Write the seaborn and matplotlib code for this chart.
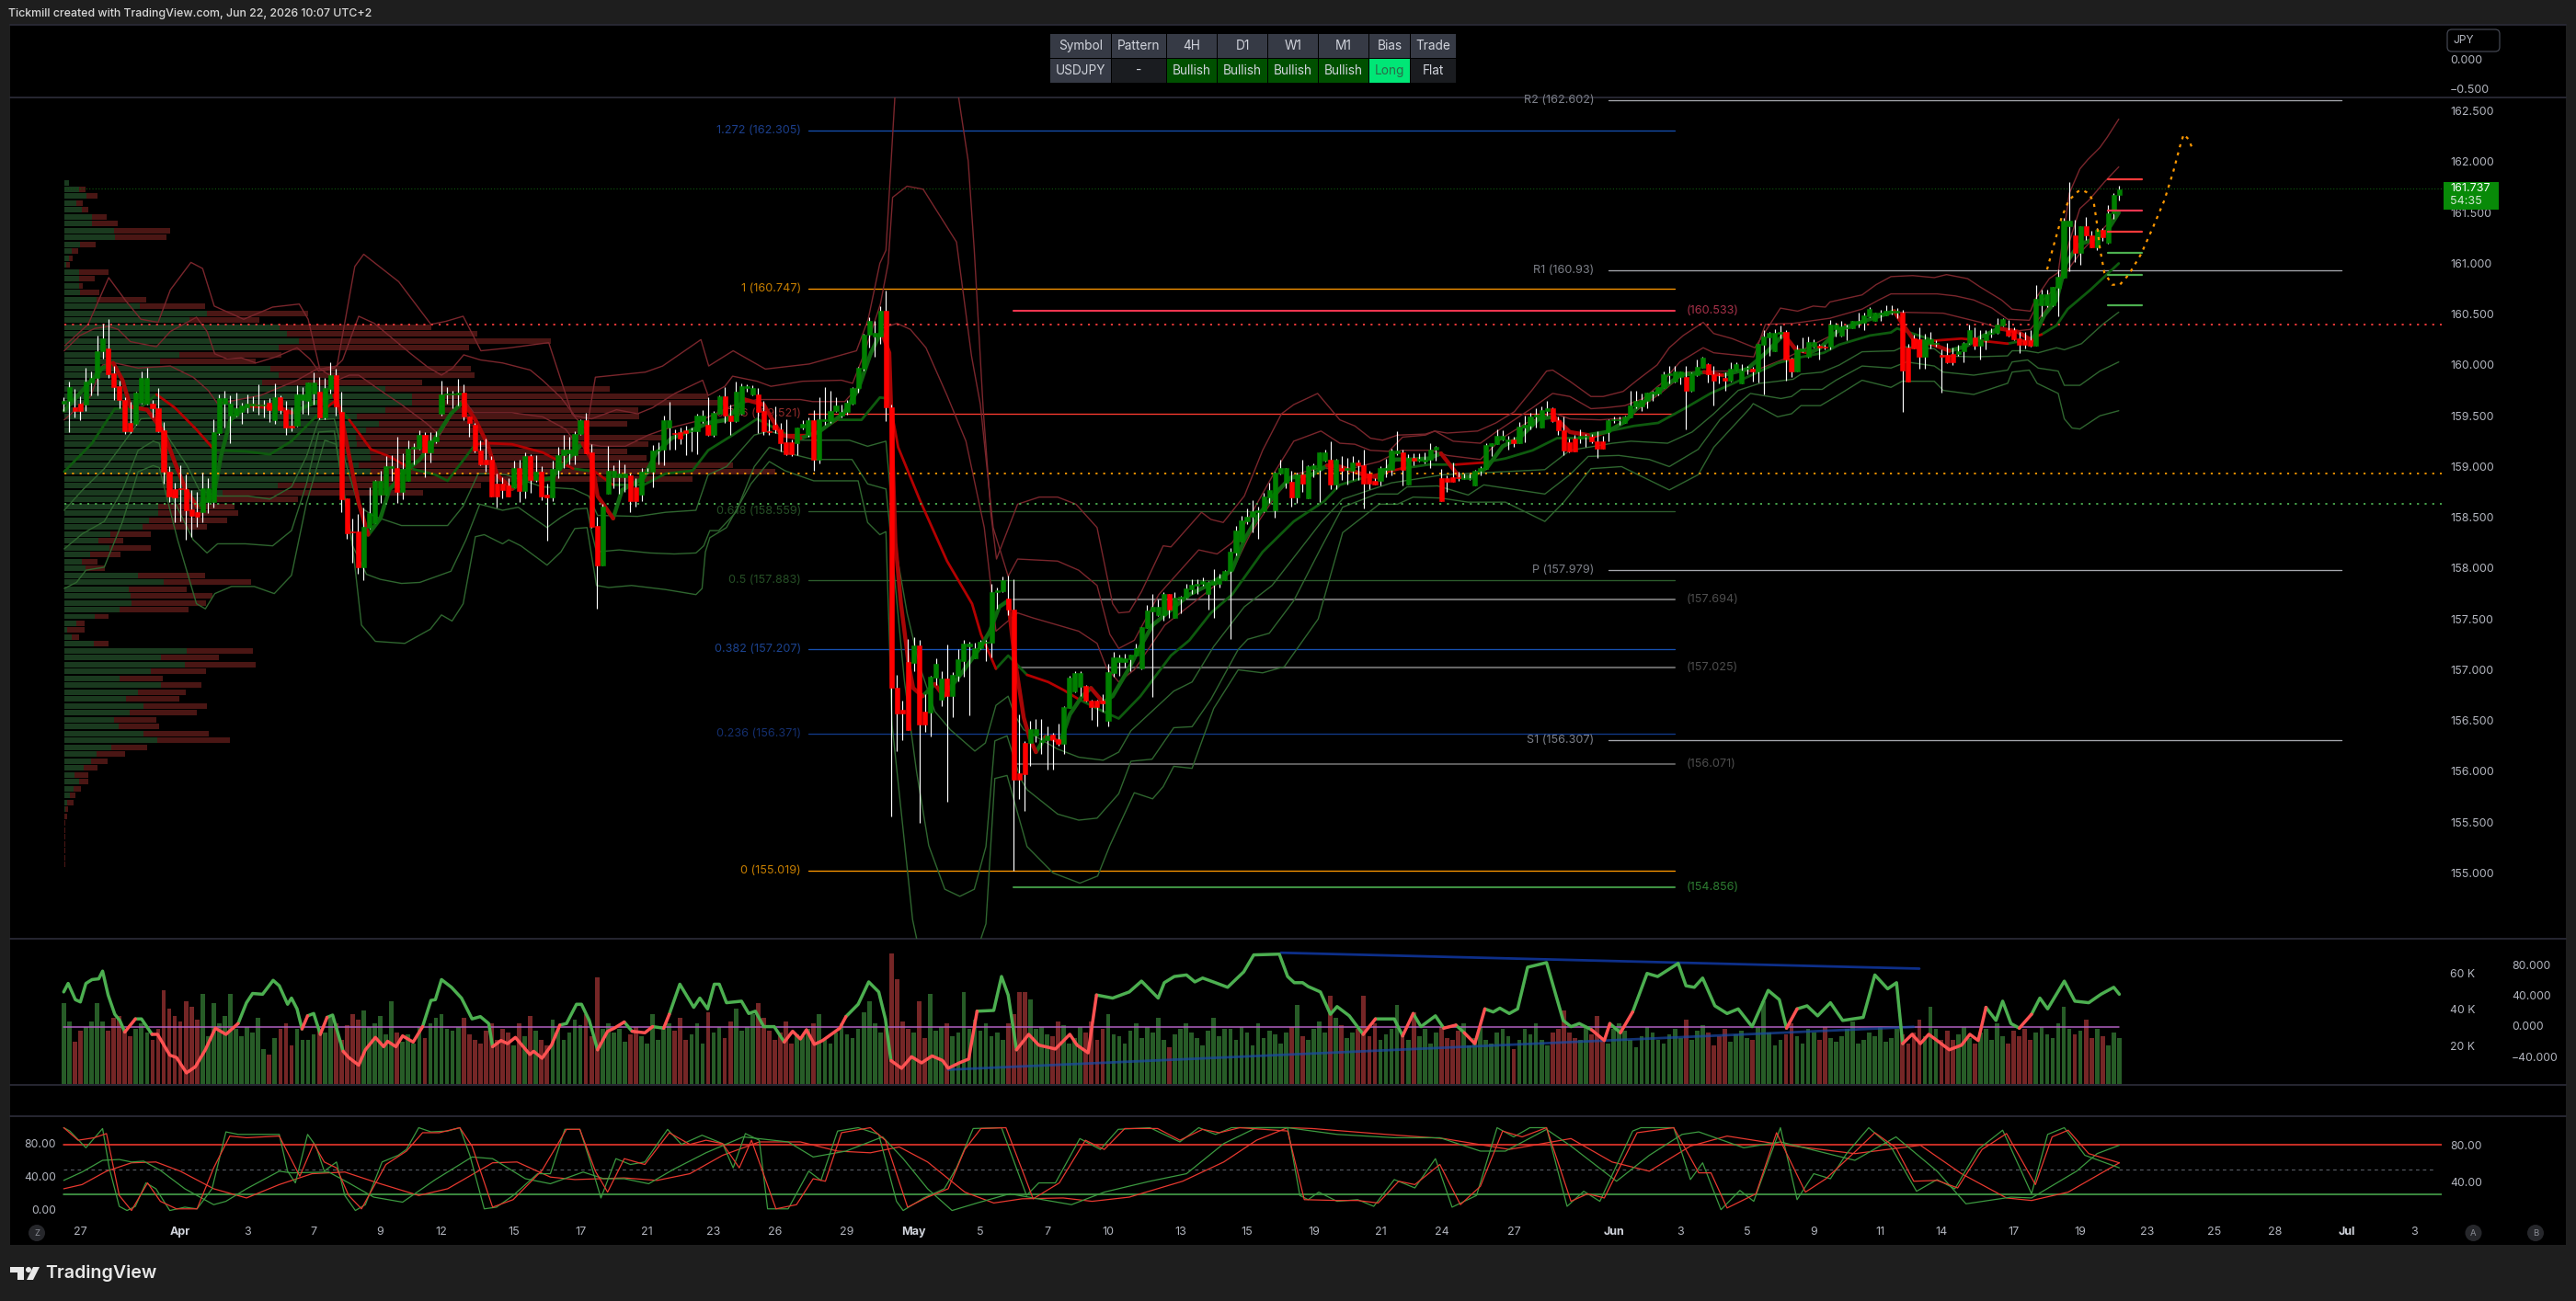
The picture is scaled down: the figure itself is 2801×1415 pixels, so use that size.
import numpy as np
import pandas as pd
import seaborn as sns
import matplotlib.pyplot as plt
from matplotlib.patches import Rectangle, Circle, Polygon, FancyBboxPatch

W, H = 2801, 1415

# ---- candles (4H USDJPY), body top / body bottom / high / low
body_top = [
159.65,159.78,159.58,159.62,159.84,159.87,160.14,160.26,160.16,159.92,
159.79,159.66,159.43,159.73,159.87,159.87,159.62,159.57,159.36,158.95,
158.78,158.79,158.78,158.58,158.55,158.79,158.79,159.34,159.67,159.67,
159.62,159.57,159.60,159.62,159.62,159.61,159.61,159.63,159.68,159.68,
159.56,159.40,159.71,159.71,159.83,159.83,159.74,159.77,159.90,159.90,
159.54,158.69,158.36,158.36,158.41,158.54,158.86,158.86,159.00,159.00,
158.99,158.98,159.18,159.19,159.31,159.31,159.26,159.29,159.71,159.72,
159.72,159.73,159.73,159.49,159.41,159.16,159.07,159.07,158.83,158.83,
158.81,158.99,158.99,159.10,159.10,158.95,158.95,158.72,158.98,159.11,
159.17,159.17,159.32,159.46,159.46,159.14,158.42,158.61,158.96,158.96,
158.93,158.93,158.91,158.80,158.95,158.95,159.16,159.17,159.46,159.46,
159.33,159.34,159.36,159.36,159.50,159.50,159.41,159.53,159.69,159.69,
159.50,159.74,159.79,159.79,159.77,159.71,159.55,159.35,159.41,159.37,
159.24,159.24,159.38,159.42,159.46,159.46,159.47,159.47,159.55,159.60,
159.54,159.63,159.77,159.97,160.30,160.43,160.32,160.53,160.53,159.58,
156.82,156.61,157.08,157.24,157.24,156.59,156.93,157.06,156.91,156.91,
156.95,157.10,157.26,157.26,157.21,157.28,157.28,157.76,157.78,157.88,
157.70,157.59,155.98,156.28,156.42,156.42,156.31,156.35,156.36,156.32,
156.63,156.92,156.97,156.97,156.84,156.70,156.70,156.70,156.98,157.12,
157.12,157.11,157.15,157.21,157.42,157.58,157.62,157.62,157.75,157.75,
157.71,157.72,157.80,157.84,157.85,157.87,157.86,157.87,157.90,157.97,
158.16,158.37,158.47,158.51,158.56,158.57,158.71,158.77,158.94,158.99,
158.99,158.85,158.92,158.92,159.00,159.01,159.14,159.14,159.07,159.07,
158.99,158.99,159.04,159.04,159.01,158.93,158.86,158.99,158.99,159.16,
159.16,159.14,159.09,159.09,159.08,159.07,159.17,159.19,158.89,158.89,
158.90,158.90,158.89,158.89,158.96,158.99,159.21,159.23,159.30,159.30,
159.27,159.27,159.39,159.41,159.49,159.51,159.56,159.57,159.57,159.46,
159.36,159.24,159.28,159.30,159.30,159.29,159.25,159.25,159.46,159.47,
159.47,159.49,159.60,159.65,159.66,159.73,159.74,159.78,159.91,159.92,
159.94,159.94,159.88,159.92,159.98,160.07,160.01,159.91,159.91,159.87,
159.96,160.01,159.95,159.97,159.96,160.21,160.28,160.32,160.32,160.33,
160.33,160.06,160.15,160.16,160.23,160.23,160.19,160.18,160.40,160.40,
160.38,160.37,160.43,160.43,160.49,160.55,160.52,160.52,160.53,160.53,
160.53,160.52,160.17,160.26,160.25,160.25,160.25,160.22,160.10,160.10,
160.11,160.14,160.22,160.34,160.27,160.25,160.31,160.32,160.40,160.45,
160.34,160.34,160.26,160.24,160.24,160.65,160.70,160.70,160.77,160.87,
161.42,161.42,161.28,161.37,161.37,161.28,161.33,161.33,161.49,161.67,
161.73]
body_bot = [
159.62,159.65,159.55,159.55,159.61,159.83,159.87,160.14,159.91,159.78,
159.66,159.35,159.35,159.42,159.63,159.62,159.57,159.35,158.95,158.71,
158.70,158.78,158.57,158.52,158.51,158.55,158.65,158.65,159.33,159.62,
159.50,159.50,159.54,159.58,159.60,159.60,159.60,159.56,159.46,159.56,
159.38,159.38,159.40,159.66,159.65,159.72,159.48,159.48,159.76,159.59,
158.68,158.34,158.35,158.01,158.01,158.40,158.44,158.72,158.72,158.99,
158.75,158.75,158.86,159.18,159.18,159.14,159.14,159.25,159.52,159.71,
159.71,159.71,159.49,159.43,159.16,159.02,159.02,158.71,158.71,158.77,
158.71,158.80,158.76,158.76,158.87,158.87,158.71,158.70,158.70,158.97,
159.11,159.13,159.11,159.32,159.13,158.41,158.03,158.03,158.73,158.90,
158.90,158.90,158.66,158.66,158.72,158.94,158.95,159.16,159.17,159.38,
159.32,159.28,159.33,159.35,159.35,159.45,159.31,159.31,159.52,159.50,
159.45,159.45,159.52,159.77,159.71,159.54,159.35,159.34,159.37,159.23,
159.12,159.12,159.23,159.38,159.31,159.07,159.07,159.45,159.45,159.55,
159.50,159.54,159.62,159.77,159.96,160.30,160.28,160.28,159.58,156.82,
156.57,156.57,156.41,157.07,156.46,156.46,156.58,156.92,156.71,156.74,
156.74,156.94,157.09,157.23,157.11,157.21,157.27,157.27,157.76,157.77,
157.59,155.92,155.92,155.97,156.28,156.35,156.29,156.31,156.32,156.27,
156.27,156.62,156.79,156.83,156.70,156.63,156.63,156.67,156.50,156.97,
157.08,157.08,157.10,157.14,157.01,157.41,157.57,157.54,157.54,157.59,
157.51,157.70,157.71,157.79,157.83,157.85,157.75,157.84,157.85,157.88,
157.97,158.15,158.26,158.46,158.51,158.55,158.56,158.70,158.57,158.93,
158.84,158.70,158.70,158.83,158.69,158.98,158.97,159.06,158.82,158.82,
158.96,158.97,158.96,159.01,158.83,158.83,158.82,158.86,158.97,158.97,
159.13,158.97,158.82,159.06,159.06,159.05,159.07,159.17,158.66,158.85,
158.85,158.89,158.88,158.88,158.81,158.96,158.98,159.20,159.22,159.27,
159.25,159.23,159.23,159.38,159.40,159.49,159.38,159.55,159.45,159.36,
159.16,159.15,159.15,159.28,159.29,159.25,159.18,159.18,159.34,159.46,
159.46,159.43,159.48,159.59,159.59,159.65,159.72,159.72,159.77,159.90,
159.84,159.88,159.75,159.75,159.90,159.97,159.91,159.85,159.90,159.85,
159.85,159.95,159.82,159.96,159.94,159.94,160.20,160.27,160.14,160.31,
160.05,159.94,159.94,160.14,160.08,160.18,160.17,160.17,160.18,160.35,
160.29,160.36,160.36,160.41,160.42,160.48,160.43,160.50,160.49,160.52,
160.52,159.95,159.84,160.16,160.08,160.08,160.21,160.21,160.08,160.03,
160.03,160.11,160.14,160.22,160.19,160.19,160.24,160.31,160.32,160.39,
160.29,160.25,160.20,160.20,160.19,160.19,160.59,160.59,160.59,160.76,
160.86,161.37,161.10,161.10,161.28,161.16,161.16,161.26,161.20,161.49,
161.67]
highs = [
159.68,159.84,159.76,159.69,159.97,159.94,160.29,160.41,160.45,159.99,
159.85,159.68,159.64,159.74,159.94,159.97,159.66,159.77,159.44,159.00,
158.84,159.01,158.92,158.77,158.75,158.94,158.89,159.47,159.71,159.75,
159.70,159.73,159.63,159.71,159.69,159.81,159.66,159.67,159.82,159.70,
159.65,159.58,159.80,159.78,159.83,159.93,159.88,159.87,160.03,159.96,
159.74,158.69,158.49,158.53,158.60,158.80,158.87,158.96,159.10,159.11,
159.29,159.13,159.26,159.23,159.36,159.34,159.34,159.35,159.85,159.78,
159.75,159.86,159.81,159.49,159.43,159.26,159.28,159.10,158.93,158.90,
158.89,159.06,159.07,159.14,159.12,159.11,159.00,158.83,159.06,159.19,
159.31,159.29,159.35,159.47,159.53,159.22,158.51,158.63,159.20,159.01,
159.07,159.02,158.93,158.89,158.99,158.99,159.21,159.24,159.50,159.64,
159.37,159.38,159.40,159.38,159.52,159.56,159.68,159.55,159.70,159.78,
159.61,159.84,159.82,159.81,159.80,159.77,159.65,159.47,159.59,159.43,
159.47,159.27,159.38,159.46,159.48,159.56,159.68,159.78,159.75,159.68,
159.61,159.66,159.78,159.98,160.31,160.47,160.43,160.575,160.73,159.61,
156.95,156.70,157.30,157.32,157.29,156.76,156.94,157.11,156.99,157.25,
156.98,157.20,157.29,157.28,157.27,157.29,157.29,157.85,157.81,157.92,
157.93,157.89,156.56,156.30,156.50,156.52,156.52,156.44,156.38,156.47,
156.64,156.94,156.99,156.99,156.85,156.71,156.71,156.76,157.06,157.18,
157.15,157.16,157.15,157.26,157.42,157.64,157.75,157.69,157.76,157.75,
157.76,157.73,157.85,157.89,157.89,157.91,157.87,157.99,157.95,157.98,
158.20,158.42,158.52,158.59,158.67,158.61,158.74,158.84,158.95,159.07,
158.99,158.96,158.94,159.07,159.01,159.03,159.14,159.17,159.25,159.08,
159.10,159.09,159.10,159.07,159.17,158.96,158.89,159.00,159.08,159.18,
159.35,159.17,159.12,159.13,159.13,159.14,159.23,159.20,158.98,158.91,
159.04,158.95,158.93,158.93,158.97,159.00,159.23,159.23,159.37,159.36,
159.30,159.29,159.44,159.50,159.53,159.57,159.59,159.65,159.58,159.49,
159.49,159.28,159.31,159.37,159.32,159.32,159.35,159.30,159.47,159.49,
159.49,159.50,159.75,159.75,159.72,159.73,159.75,159.78,159.94,159.99,
159.99,159.94,159.99,159.93,160.05,160.08,160.02,159.99,159.92,159.93,
160.03,160.03,160.01,159.99,159.98,160.21,160.34,160.33,160.35,160.39,
160.34,160.07,160.20,160.27,160.28,160.25,160.21,160.20,160.44,160.42,
160.43,160.40,160.43,160.52,160.52,160.57,160.52,160.54,160.59,160.59,
160.56,160.54,160.21,160.30,160.37,160.31,160.33,160.24,160.15,160.22,
160.17,160.20,160.23,160.40,160.37,160.34,160.34,160.36,160.46,160.46,
160.44,160.37,160.33,160.33,160.34,160.79,160.74,160.74,160.77,160.94,
161.45,161.80,161.43,161.37,161.46,161.32,161.35,161.35,161.57,161.69,
161.76]
lows = [
159.55,159.34,159.48,159.46,159.55,159.70,159.70,160.06,159.87,159.66,
159.57,159.32,159.33,159.41,159.62,159.61,159.48,159.34,158.83,158.65,
158.45,158.46,158.28,158.31,158.41,158.45,158.54,158.60,159.31,159.38,
159.23,159.49,159.42,159.53,159.55,159.51,159.48,159.44,159.42,159.52,
159.31,159.35,159.39,159.52,159.51,159.61,159.47,159.47,159.72,159.50,
158.55,158.29,158.05,157.95,157.88,158.39,158.44,158.64,158.72,158.86,
158.64,158.68,158.86,159.02,159.17,158.90,159.04,159.23,159.50,159.62,
159.57,159.60,159.46,159.29,159.14,159.01,158.95,158.71,158.60,158.69,
158.71,158.80,158.65,158.69,158.74,158.85,158.67,158.27,158.66,158.89,
158.99,159.02,159.02,159.31,159.13,158.40,157.60,158.03,158.73,158.79,
158.73,158.75,158.55,158.61,158.66,158.93,158.80,159.02,159.01,159.17,
159.17,159.22,159.11,159.15,159.12,159.43,159.30,159.29,159.52,159.43,
159.31,159.44,159.51,159.74,159.70,159.33,159.31,159.31,159.33,159.15,
159.11,159.10,159.11,159.37,159.29,158.96,159.03,159.41,159.43,159.54,
159.48,159.51,159.61,159.73,159.95,160.17,160.08,160.21,159.45,155.56,
156.20,156.31,156.41,156.99,155.49,156.39,156.34,156.85,156.64,155.70,
156.53,156.89,156.93,156.55,157.11,157.20,157.09,157.12,157.60,157.76,
157.54,155.02,155.73,155.61,156.05,156.29,156.17,156.02,156.02,156.25,
156.17,156.62,156.78,156.74,156.69,156.51,156.44,156.59,156.44,156.93,
156.94,157.02,156.99,157.14,157.00,157.41,156.73,157.53,157.48,157.51,
157.51,157.56,157.70,157.75,157.75,157.83,157.59,157.51,157.81,157.88,
157.30,158.13,158.26,158.43,158.35,158.29,158.55,158.64,158.50,158.92,
158.79,158.61,158.64,158.75,158.69,158.90,158.65,159.05,158.78,158.78,
158.87,158.82,158.87,158.87,158.59,158.78,158.82,158.81,158.90,158.91,
159.11,158.81,158.82,159.01,159.05,159.03,158.99,159.06,158.66,158.75,
158.85,158.86,158.88,158.87,158.81,158.91,158.98,159.10,159.22,159.26,
159.17,159.19,159.23,159.24,159.37,159.38,159.38,159.50,159.44,159.31,
159.11,159.14,159.15,159.23,159.19,159.23,159.09,159.18,159.25,159.43,
159.41,159.43,159.48,159.57,159.55,159.57,159.65,159.70,159.77,159.82,
159.83,159.81,159.37,159.74,159.89,159.97,159.83,159.60,159.82,159.75,
159.84,159.95,159.82,159.91,159.84,159.83,159.71,160.09,160.14,160.26,
159.85,159.88,159.94,160.13,160.07,160.17,160.05,160.15,160.15,160.28,
160.28,160.24,160.36,160.37,160.34,160.47,160.43,160.43,160.49,160.50,
160.46,159.54,159.84,160.16,159.96,159.96,160.16,160.18,159.73,160.02,
160.00,160.09,160.03,160.21,160.15,160.05,160.15,160.27,160.31,160.38,
160.28,160.24,160.12,160.16,160.18,160.19,160.48,160.57,160.58,160.48,
160.86,160.92,161.01,160.99,161.23,161.16,161.13,161.22,161.19,161.44,
161.62]
candle_dir = (
"GGRRGGGGRR" "RRRGGGRRRR" "RRRRRGGGGG" "GGGGGGGRGR" "RRGGGGRGGR"
"RRRRGGGGGG" "RGGGGRGGGG" "GGRRRRRRRR" "RGRGRGRRGG" "GGGGRRRGGG"
"GGRRGGGGGG" "RRRGGGRGGR" "RGGGGRRRRR" "RRGGGRGGGG" "GGGGGGGGRR"
"RRRGRRGGGR" "GGGGGGGGGG" "RRRRGGGGRR" "GGGGRRRRGG" "GGGGGGGGGR"
"GGGGGGGGGG" "GGGGGGGGGG" "GRGRGGGGRG" "RGGRRRRGGG" "GRGRGGGGRR"
"RRGGGGGGGG" "GRGGGGGGRR" "RRRGGRRRGG" "GGGGGGGGGG" "GGRGGGRRRR"
"GGGGRGGGGG" "RRGGGGRRGG" "GGGGGGGGGG" "GRRRRGGGRR" "RGGGRGGGGG"
"RRRRRGGGGG" "GGRGRRGRGG" "G")

# volume per bar, thousands
volume_k = [
44,34,23,29,31,34,44,34,29,36, 37,30,26,30,33,28,24,30,51,41,
37,34,45,42,35,49,26,44,33,37, 49,30,26,31,28,36,19,16,25,30,
33,21,30,24,24,27,30,28,36,33, 24,32,38,35,40,31,33,37,27,45,
28,23,27,22,31,25,33,36,38,30, 29,31,36,27,24,22,29,33,24,30,
28,21,33,26,37,29,24,21,35,30, 24,28,35,32,38,26,58,30,33,28,
30,23,27,31,26,22,38,24,30,33, 29,36,24,27,33,22,39,28,31,25,
34,41,29,31,38,44,36,29,24,28, 34,22,27,26,30,33,38,24,22,28,
33,27,25,30,39,45,33,28,31,71, 57,34,30,28,45,25,49,29,31,33,
26,28,50,30,35,29,33,26,28,24, 33,38,50,50,46,30,31,27,26,34,
32,22,25,31,28,34,24,30,38,27, 26,22,29,33,25,31,28,36,24,20,
27,30,33,28,25,21,29,36,26,30, 30,24,31,28,21,33,25,29,27,22,
28,31,43,26,24,30,34,28,48,36, 32,25,28,30,48,26,33,24,27,30,
43,28,24,39,26,30,22,28,31,25, 24,29,33,21,25,31,24,22,28,30,
26,19,24,30,27,33,24,21,28,30, 40,28,25,24,31,27,37,25,22,30,
33,29,24,20,26,31,28,24,22,27, 30,25,35,24,29,32,28,21,26,30,
23,27,29,25,24,31,45,28,21,24, 27,33,26,22,30,28,24,31,25,23,
26,30,34,22,24,28,26,31,23,25, 30,27,22,28,35,26,42,30,24,29,
24,27,31,25,22,28,30,24,33,26, 22,29,26,30,24,28,31,27,25,33,
42,30,27,29,35,25,30,26,21,28, 25]

# ---- bollinger style bands, vertices read as (bar, price)
u3_x = [0.2,4.4,8.1,11.2,13.9,17,19.2,22.9,25,27.1,32.4,37.6,42.4,44,46.1,49.2,52.4,54,60.3,66.1,68.8,71.9,75.1,80.4,87.3,91.5,94.1,95.7,104.7,107.8,114.7,116.1,120.5,126.3,134.2,142.7,144.8,146.9,148,149.6,155,160.9,162.8,163.9,165.5,166.9,167.9,171.7,175.6,178.9,182.2,186,188.8,189.9,191.8,194,197.9,199.3,204.8,206.5,208.7,212.5,215.8,219.2,221.4,225.7,229.7,232.4,235.2,237.4,240.1,245.1,246.8,249,254.5,257.8,261.1,264.4,266.9,268,271.1,274.9,277.1,280.7,283.2,286.8,289,291.5,295.1,297,300.3,304.4,309,312.1,314.9,317.1,317.9,323.7,326.2,328.9,332.8,336.7,338.9,342.7,344.9,348.8,350.7,354,354.9,357.4,359,361,362.9,364.3,366.5,367.8,369.9]
u3_y = [160.19,160.40,160.86,160.63,160.45,160.42,160.74,161.01,160.95,160.58,160.45,160.57,160.60,160.45,159.96,159.99,160.97,161.09,160.82,160.40,160.43,160.48,160.14,160.17,160.22,159.52,159.36,159.88,159.93,159.99,160.25,159.99,160.14,159.96,160.01,160.14,160.45,161.00,161.13,162.63,164.5,162.7,162.01,161.13,159.57,158.53,158.09,158.63,158.70,158.70,158.63,158.40,157.65,157.56,157.57,157.77,158.22,158.21,158.55,158.48,158.45,158.71,159.16,159.52,159.61,159.72,159.46,159.40,159.28,159.26,159.31,159.32,159.35,159.33,159.35,159.43,159.54,159.76,159.94,159.95,159.84,159.69,159.69,159.74,159.85,160.00,160.17,160.29,160.42,160.31,160.26,160.17,160.56,160.53,160.58,160.57,160.62,160.69,160.79,160.87,160.88,160.86,160.89,160.85,160.77,160.64,160.55,160.53,160.65,160.85,160.91,161.69,161.93,162.02,162.14,162.24,162.42]
u2_x = [0.1,2.9,5.6,8.1,9.8,12,16.7,19.2,23.9,25.8,27.2,29.4,32,34.6,38.2,42,44.3,45.9,48.7,50.2,53.1,55.9,59.2,62.5,65.5,68,70,72,75,79,84,86.2,89.5,92,95,99.5,103.3,106,110,115,116,119,120.4,124.8,127.3,133,140,142,144,147,148.4,149.2,151.8,154.7,160.7,163.4,165,167.3,170,171.7,178.9,182.7,186,188.3,189.9,192.7,197.1,201.5,204.3,207.6,210.3,213.6,218,221.4,226.3,229.7,232.4,235.2,238.5,241,245.1,246.8,250.1,255,257.8,261.1,264.4,268,271.1,274.9,277.7,281,284.3,287.6,290.9,295.1,297,304.2,306.3,311.3,317.9,323.7,326.7,328.9,337.2,340.5,343.8,347.1,349.9,353.8,354.9,357.4,359,361,362.9,364.5,367.3,369.9]
u2_y = [160.14,160.29,160.36,160.38,160.35,160.23,160.18,160.33,160.47,160.33,160.11,160.06,160.07,160.02,160.08,160.17,160.06,159.94,159.97,160.05,160.48,160.41,160.26,160.11,159.98,159.90,159.97,160.10,160.05,160.02,159.95,159.85,159.68,159.50,159.47,159.56,159.52,159.58,159.72,159.85,159.70,159.79,159.89,159.84,159.79,159.84,159.85,159.82,160.10,160.60,161.00,161.65,161.76,161.73,161.21,160.09,159.61,158.40,157.92,158.09,158.07,157.98,157.83,157.35,157.21,157.29,157.74,158.01,158.18,158.14,158.25,158.52,158.95,159.25,159.35,159.23,159.22,159.16,159.15,159.29,159.31,159.35,159.25,159.23,159.34,159.46,159.58,159.72,159.69,159.57,159.58,159.60,159.67,159.82,160.03,160.17,160.12,160.08,160.40,160.41,160.46,160.55,160.64,160.70,160.70,160.68,160.64,160.56,160.45,160.44,160.56,160.70,160.79,161.21,161.54,161.62,161.80,161.95]
u1_x = [0.1,4.8,7,9.2,13.4,19.2,23.3,26,27.7,35.4,42,45.9,49.2,51.4,53.1,57,60.8,65.2,67.7,70.8,71.9,73.8,80.7,86.2,90.3,92,96.7,101.1,105.2,108.3,114.9,120.4,124.8,132.6,134.8,140.6,143,145.5,147.2,150,152.4,155.2,159,162.4,165.7,167.8,171.7,174.5,178.3,182.7,186,187.7,189.9,192.7,198.2,205.9,210.3,213.6,218,221.4,226.3,230.2,236.8,240.7,246.2,249,255,258.9,263.3,268,271.1,276.6,281.3,287.6,292,295.9,304.2,309.7,319.6,325.1,330,338.3,345,350.5,354,358.2,360.4,363.2,366.5,369.9]
u1_y = [159.46,159.69,160.00,160.02,159.97,159.99,159.88,159.75,159.62,159.70,159.85,159.97,159.85,159.90,159.90,159.75,159.61,159.43,159.31,159.60,159.67,159.53,159.53,159.49,159.37,159.25,159.20,159.20,159.31,159.37,159.46,159.60,159.66,159.66,159.64,159.64,159.79,160.12,160.36,160.41,160.35,160.17,159.70,159.25,158.40,157.38,157.56,157.51,157.45,157.38,157.26,157.02,156.88,157.00,157.44,157.77,157.97,158.34,158.70,158.92,158.99,158.96,159.05,159.16,159.16,159.11,159.07,159.28,159.43,159.53,159.47,159.46,159.48,159.73,159.93,159.94,159.94,160.06,160.33,160.45,160.52,160.51,160.42,160.33,160.35,160.64,160.91,161.12,161.31,161.50]
l1_x = [0.1,3.4,7.3,10.6,13.9,17.2,18.9,22.2,24.4,27.7,33.2,37.1,41,43.7,45.9,48.7,50.9,53.1,55.9,60.8,69.1,71.9,74.6,77.4,79.6,86.2,91.7,94.5,96.1,103.3,108.3,113.8,116,119.3,124.3,127,132.6,141.4,144.7,148,149.6,151.8,154,156.8,159.6,164,165.9,167.8,170,171.1,172.8,178.9,182.7,187.1,189.9,192.1,199.8,203.1,207,212.5,217.5,226.3,230.2,239,248.4,266.6,271.1,278.8,282.1,288.7,293.1,297,301.4,305.3,308.5,311.3,312.7,316.5,319.6,323.7,329.5,331.1,336.7,338.3,343.8,349.9,350.7,353.2,355.4,358.7,360.1,363.2,367,369.9]
l1_y = [158.57,158.77,158.98,159.22,159.47,159.48,159.28,159.01,158.77,158.71,158.71,158.68,158.80,159.10,159.46,159.47,159.01,158.61,158.51,158.42,158.42,158.61,158.93,158.93,158.92,158.80,158.78,158.71,158.52,158.51,158.55,158.57,158.92,159.00,159.31,159.35,159.26,159.26,159.20,159.25,158.25,157.56,157.05,156.59,156.41,156.20,156.28,156.65,156.74,156.56,156.41,156.22,156.14,156.11,156.19,156.40,156.79,156.88,157.23,157.62,157.83,158.45,158.68,158.84,158.92,158.97,159.16,159.23,159.25,159.23,159.34,159.52,159.75,159.82,159.84,159.86,159.91,159.93,160.00,160.13,160.14,160.18,160.16,160.09,160.08,160.09,160.14,160.14,160.12,160.17,160.15,160.21,160.40,160.52]
l2_x = [0.1,3.4,7.3,10.6,13.4,16.1,17.2,18.9,23.3,25.8,27.7,32.7,37.6,41,43.7,45.9,48.7,52,54.5,57,60.8,64.1,69.7,72.4,74.9,79,81.8,87,89.5,92,94.2,95,95.9,100,105.5,109.9,113.8,115.2,116.3,117.9,121,124.3,127,129.8,135,141.9,144.7,148,148.6,151.3,153.5,155.7,158.6,161.3,163.9,166,167.6,169.8,172.2,173.4,178.9,182.7,186,189.9,192.1,195.9,199.8,203.1,206.5,211.4,213.1,217,221.4,226.3,230.2,236.3,240.1,241.8,247.3,252.8,255.6,266.6,271.1,274.4,279.9,285.4,289,294.2,298.1,303.6,309.1,311,312.7,316.5,319,323.7,328.9,331.7,336.7,338.3,343.8,349.9,350.7,353.5,355.4,359,360.1,362.9,366.5,369.9]
l2_y = [158.19,158.34,158.46,158.77,159.16,159.25,159.23,158.77,158.28,158.15,158.24,158.24,158.22,158.37,158.83,159.34,159.35,158.22,157.94,157.89,157.85,157.86,157.97,158.28,158.63,158.57,158.60,158.40,158.50,158.58,158.59,158.36,158.16,158.18,158.15,158.14,158.15,158.22,158.37,158.37,158.55,159.00,159.19,159.14,159.07,159.07,158.83,158.78,158.46,156.90,156.00,155.27,154.84,154.77,154.84,155.26,156.30,156.35,155.93,155.82,155.58,155.52,155.54,155.78,156.10,156.12,156.43,156.44,156.71,157.20,157.30,157.36,157.68,158.20,158.60,158.73,158.73,158.80,158.81,158.72,158.82,158.73,158.92,159.10,159.11,159.07,159.00,159.17,159.46,159.72,159.67,159.69,159.76,159.76,159.85,159.99,159.97,160.03,159.99,159.93,159.90,159.95,160.03,160.05,159.97,159.94,159.80,159.80,159.94,160.03]
l3_x = [0.1,2.3,4,7.3,10.6,13.4,16.1,17.2,20.5,23.9,25.5,27.2,30.2,34.3,37.9,41,43.7,47,49,52,53.6,56.1,61.4,66,68,69.9,71.9,74.1,75.7,79,80.1,82.3,87,89.5,92,94.2,95.9,98.1,102.2,108.3,113.8,114.9,115.5,116.3,119.3,123.7,127,129.8,135,143,144.7,146.9,148,149.1,152.8,158,166,167.6,169.8,173.4,178.1,182.9,186.1,188.3,192.7,196,197.9,199.8,203.1,207,211.4,215.8,219.7,225.8,230.2,236.8,240.1,242.9,247.9,252.8,259.5,266.6,270,274.9,280.4,289,294.2,297,303.6,304.1,308.5,311,312.7,316.2,319,323.7,328.9,330.9,336.7,338.3,343.8,349.9,350.7,353.8,355.2,359,360.1,361.5,362.9,366.5,369.9]
l3_y = [157.80,157.86,157.98,158.01,158.46,158.95,159.01,158.99,158.28,157.65,157.60,157.75,157.82,157.82,157.75,157.93,158.64,159.26,159.22,158.22,157.44,157.28,157.26,157.40,157.54,157.48,157.65,158.31,158.33,158.24,158.28,158.22,158.03,158.16,158.39,158.40,157.83,157.81,157.83,157.79,157.74,157.80,158.16,158.30,158.40,158.83,159.05,158.96,158.86,158.86,158.45,158.33,158.36,156.46,154.54,153.20,154.50,155.93,155.96,155.26,155.00,154.90,154.97,155.27,155.79,155.73,155.85,156.05,156.03,156.62,157.00,156.97,157.03,157.50,158.35,158.63,158.63,158.70,158.69,158.65,158.65,158.46,158.65,158.98,159.00,158.77,158.92,159.19,159.58,159.62,159.49,159.52,159.60,159.60,159.69,159.85,159.78,159.84,159.84,159.75,159.71,159.82,159.93,159.95,159.82,159.72,159.47,159.38,159.37,159.50,159.55]

# slow and fast averages
slow_x = [0.1,5.1,9.2,13.6,16.7,20,23.8,27.2,32.7,37.1,41,45.9,48.7,51.4,55.3,58.6,62.5,66.9,69.1,74.1,76.5,80.7,86.2,91.7,95.6,98.9,104.4,108.3,113.2,116,120.4,124.8,130.3,134.8,139.2,143.6,146.9,148.6,150.2,154.1,159,163.5,165.1,167.8,170,173.4,177.2,180,182.7,187.1,189.9,193.8,199.3,202.6,206.5,210.3,215.8,221.4,226.9,229.7,234,240.7,245.7,250.6,255.6,259.5,264.4,268.8,274.9,278.2,282.6,287,292,296.4,303,308.5,312.9,316.8,319.6,325.1,328.9,330,336.7,341.6,349.9,352.7,356,358.7,360.7,364.8,369.9]
slow_y = [158.95,159.23,159.57,159.57,159.71,159.58,159.37,159.16,159.15,159.12,159.25,159.52,159.64,159.46,159.17,159.10,158.98,158.92,158.86,159.22,159.23,159.22,159.14,158.98,158.95,158.82,158.82,158.93,158.96,159.16,159.31,159.47,159.31,159.31,159.46,159.46,159.68,159.67,159.19,158.67,158.07,157.65,157.35,157.01,157.14,156.95,156.88,156.80,156.71,156.59,156.52,156.74,157.14,157.29,157.56,157.74,158.16,158.46,158.66,158.82,158.89,158.98,159.02,159.02,159.04,159.08,159.16,159.28,159.28,159.35,159.40,159.43,159.58,159.72,159.88,160.02,160.08,160.12,160.20,160.29,160.32,160.36,160.24,160.26,160.21,160.24,160.30,160.39,160.55,160.74,161.00]
fast_x = [0.1,7,8.9,10.6,12,15,18,20,22,24,27,28.3,30,33.2,38.8,41,44.3,48.7,49.8,51.4,53.1,54.8,57,58.6,61.4,64.1,66.9,69.7,71.9,74.1,76.3,78,80.7,84,86.2,87.9,91.7,93.4,95,96.1,98.9,100.5,104.4,106.6,109.4,112.7,116,119.3,122.6,126,129.2,132.6,135.9,140.3,143,145.3,147.2,148.6,149.7,150.7,152.1,152.9,154.6,156.8,158.4,161.8,165.1,166.7,168.4,170,171.1,172.8,173.9,175,176.7,179.4,181.1,183.3,184.9,187.1,188.8,191.6,193.8,196,199.3,202.6,205.9,210.3,212.5,215.3,218,220.8,224.7,227.4,229.7,234,236.8,239.6,242.4,245.7,247.9,251.2,253.4,256.2,259,262.2,265.5,268.3,271.1,274.4,277.7,281,283.7,287.6,290.9,295.3,298.6,303,306.4,309.6,311.8,314.3,316.2,319.6,323.4,329.5,330.9,333.1,336.1,339.4,342.2,344.9,348.3,351.6,354.3,356.5,358.7,360.4,362.6,365.4,367.6,369.9]
fast_y = [159.55,159.97,160.02,159.85,159.59,159.56,159.34,159.04,158.77,158.61,158.71,159.10,159.46,159.60,159.58,159.53,159.61,159.70,159.55,159.10,158.64,158.33,158.49,158.77,158.95,159.07,159.28,159.52,159.64,159.46,159.22,158.92,158.78,158.89,158.87,158.89,159.13,159.23,159.07,158.71,158.49,158.77,158.89,159.13,159.28,159.35,159.43,159.46,159.66,159.61,159.31,159.28,159.34,159.52,159.76,160.12,160.33,160.12,158.25,157.65,157.05,156.82,156.74,156.86,156.74,156.98,157.23,157.38,157.62,157.68,157.14,156.53,156.32,156.19,156.34,156.29,156.56,156.74,156.82,156.68,156.74,157.00,157.23,157.44,157.59,157.74,157.83,157.98,158.28,158.54,158.73,158.89,158.92,159.01,159.00,158.92,158.89,159.07,159.07,159.08,159.13,158.90,158.90,158.99,159.20,159.29,159.47,159.49,159.34,159.31,159.34,159.44,159.61,159.76,159.90,159.93,159.90,159.96,160.12,160.30,160.15,160.12,160.17,160.35,160.42,160.53,160.41,160.24,160.21,160.14,160.18,160.27,160.36,160.33,160.24,160.49,160.64,161.00,161.18,161.24,161.30,161.50]

# oscillator over the volume pane
osc_x = [0,0.8,2.1,3,4,5.1,6.3,7,8,9.2,10.1,11,12.9,14,15.9,16.9,19.1,20.3,22.1,23.7,25.5,27.3,29.2,31.4,32.9,34,35.8,37.7,38.8,40.3,41,42,42.9,43.9,45,46.2,47.4,48.4,50.3,51.3,53.1,54.3,56.1,57.6,58.3,59.8,61,62.9,64.6,66.1,66.9,68,69.8,71.6,73.5,75,76.5,77.2,78.7,79.9,81.3,83.9,84.6,86.1,87.8,89.3,90.5,92.3,93.2,94.6,96.1,97.9,99.1,100.9,102.3,104.6,106,108,109,110.9,113.4,114.5,115.9,117.1,118,119.3,122,123.3,124.5,126,127.9,129.7,131.2,132.6,133.7,135.1,136.6,139.7,140.8,143,144.9,146.7,147.9,148.9,150.8,152.6,154.4,156.3,158.2,159.2,161.2,162.9,164.4,167.4,168.8,170,171.5,173.7,175.5,178.5,181.1,182.4,184.4,185.9,188.8,191.8,194,197,198.1,199.9,202.1,203.6,205,207.3,209.5,212.4,214.2,218.8,220.3,221.5,223,224,226.2,228,229.2,231.4,233.9,236.1,238,239.5,241,242.9,244.3,246.9,248.4,250.6,252.1,254,255.8,257.3,258.5,260.2,261.7,263.5,266.9,269.9,271.3,272.8,275,277.3,278.3,280.2,282.4,285,286.9,290.6,292,293.5,295,297.2,299.4,301.4,303.9,306.8,308.8,310.1,312,313.8,315.7,318,320.2,323.9,326,328.3,329.9,331,332.7,334.2,335.7,337.2,339.4,341.6,343.1,344.6,346,347.8,349,350.5,352,354.2,355.7,357.1,360.1,362,364.5,366.7,369,370]
osc_y = [46,57,36,33,57,62,63,73,42,17,9,-6,11,11,-9,-9,-36,-39,-59,-51,-29,-1,-9,5,32,44,43,61,54,30,38,24,-2,15,18,-9,13,16,-31,-39,-49,-29,-13,-25,-18,-25,-11,-19,1,35,36,62,52,38,11,14,5,-25,-17,-21,-13,-35,-31,-40,-23,3,5,30,30,9,-29,-5,-1,7,-5,-7,1,-1,17,56,26,38,24,56,56,32,34,18,21,1,1,-19,-5,-15,-3,-22,-17,-1,14,30,59,46,11,-43,-53,-38,-46,-37,-43,-53,-46,-41,21,22,66,42,-29,-9,-23,-28,-9,-23,-33,42,38,46,60,38,58,66,68,59,64,58,52,72,94,95,66,58,58,53,46,17,27,15,-9,11,11,11,-11,18,1,15,-1,3,-7,-21,24,20,25,18,24,78,84,9,1,5,-3,-17,5,-7,20,70,66,83,54,52,64,28,18,24,1,48,36,-1,24,28,15,32,9,13,68,50,58,-21,-9,-21,-9,-17,-29,-23,-9,-17,26,9,34,5,-1,17,38,24,60,34,32,43,52,43]

# stochastic lines
stk_fast_g_x = [0,1.1,4,7,8.2,10,11.4,12.9,14.8,16.6,19.1,21.8,24,26.7,29.2,31.4,38.8,40.3,41.7,43.9,45.4,46.9,49.1,50.6,52.5,54.3,57.3,60.2,61.7,63.9,66.1,69.1,71.3,73.1,75.7,77.9,80.9,85.3,87.6,90.2,92.9,94.6,96.7,99.4,102,104.6,108.7,111.2,114.9,118.6,120.5,122.7,125.2,126.7,130.4,134.1,136.3,139.3,143,146.7,149.9,151.1,154.8,158.5,160.7,163.7,168.8,173.3,175.5,178.5,182.9,186.6,189.8,195.5,200.9,204.3,207.3,210.2,220.3,222.5,224,225.9,229.2,232.9,235.8,239.5,243.2,246.9,249.9,254.3,258,261,263.9,266.9,270.6,273.6,276.5,282.4,283.9,289.8,292.8,295,298.3,301.7,304.2,309,312,315,318,320.9,324.9,329,333.5,337.2,340.4,344.6,349,354.2,357.1,360.1,363.8,370]
stk_fast_g_y = [100,96,76,99,52,6,1,6,34,27,1,5,3,27,95,92,92,48,34,92,78,48,59,19,1,8,59,67,74,100,95,96,100,67,3,5,19,45,45,98,98,63,16,63,56,59,98,80,91,81,52,93,85,3,3,48,37,96,100,92,12,1,16,27,52,99,100,19,34,34,87,74,98,100,83,100,92,100,100,19,14,23,12,14,6,38,28,63,5,19,100,89,100,100,6,24,12,96,100,100,38,58,2,25,12,100,14,45,39,69,100,76,24,38,27,74,97,21,92,100,67,52]
stk_fast_r_x = [0,2.6,5.5,7.7,10,12.2,15.1,17.4,20.3,24,27,29.9,32.9,38.8,42.5,45,46.9,49.1,51.3,53.6,58,61.7,64.6,67.6,71.3,73.5,77.2,80.9,86.1,90.5,92.9,95.7,97.9,100.9,104.6,109,112.7,115.6,118.6,121.6,123.8,128.2,131.9,134.9,137.1,140,145.2,147.9,151.9,155.5,159.2,162.2,165.1,169.6,174.5,179.2,183.9,187.3,191,196.9,200.9,205,208,211.7,220.3,223.3,229.2,232.9,236.6,240.3,243.2,247.7,251.4,255,259,262.5,266.9,271.3,274.3,277.3,283.2,289.8,294.3,296.5,299.4,304.6,308.3,313.5,317.2,322.4,326,329.8,333,337.2,340.9,345.3,349.7,354.9,357.9,360.8,364.5,370]
stk_fast_r_y = [100,85,88,93,19,1,34,12,3,3,52,90,88,90,42,81,59,52,19,3,56,72,94,94,100,78,5,14,49,98,98,48,23,63,56,94,80,85,81,52,85,3,8,39,36,94,100,85,5,17,27,74,99,100,15,34,85,74,99,99,85,98,94,100,96,14,13,13,10,36,32,56,8,30,96,89,100,12,21,16,94,100,46,46,4,21,94,23,39,71,94,76,36,37,28,74,93,32,89,97,69,58]
stk_slow_g_x = [0,3.3,7,10,12.2,14.4,17.4,21.8,27,29.2,32.9,38.8,41,47.7,51.3,55.8,61,66.9,73.5,77.2,83.1,87.6,93.5,97.2,100.9,105.3,109.7,115.6,122.3,130.4,134.9,140.8,147.4,151.1,155.5,159.9,164.4,170.3,176.2,181.4,187.3,195.5,202.1,208.8,214.7,220.3,229.2,239.5,247.7,255,259.5,266.9,271.3,279.5,285.4,291.3,294.3,302.4,309,322.4,329.8,337.2,342.4,350.5,354.2,362.3,366,370]
stk_slow_g_y = [37,47,61,62,59,60,49,27,8,12,27,48,46,47,34,17,11,38,65,63,39,33,47,39,39,33,50,70,89,83,65,72,89,63,27,1,10,21,14,8,23,36,45,81,100,100,92,88,88,72,72,98,78,36,67,92,95,76,83,61,89,48,9,17,16,48,69,79]
stk_slow_r_x = [0,3.3,7.7,12.2,16.6,21,27,32.9,38.8,44.7,50.6,56.5,63.9,69.1,77.2,81.6,87.6,92,100.9,106.8,112.7,118.6,125.2,132.6,139.3,145.2,150.4,155.5,162.2,167.4,172.5,179.9,185.1,191.8,201.4,208.8,214.7,220.3,224.7,238,248.4,260.2,271.3,278.7,285.4,292.8,299.4,309,322.4,334.2,341.6,349.7,354.2,360.8,370]
stk_slow_r_y = [27,32,48,58,59,48,27,16,32,45,47,34,19,27,58,59,41,38,40,37,45,67,83,83,72,70,77,59,23,10,15,16,12,17,36,59,85,100,99,92,87,74,87,59,48,78,90,80,69,79,45,16,13,23,58]

# volume profile rows, top to bottom (100 rows over the visible range)
vp_green = [5,16,24,13,19,30,30,54,55,17,8,5,2,16,16,16,17,35,82,155,136,234,242,255,233,125,104,224,233,215,349,378,378,349,318,342,328,317,318,332,333,320,333,300,232,172,150,102,102,92,85,50,37,49,28,19,23,80,108,70,72,73,60,33,13,3,8,32,133,105,131,94,60,105,80,67,86,71,54,59,86,101,51,35,29,21,11,16,10,6,3,1,0,0,0,0,0,0,0,0]
vp_red = [5,23,36,20,26,46,58,115,111,34,15,9,6,48,33,20,38,89,153,265,212,399,449,529,440,236,208,442,446,389,593,700,717,624,625,612,568,650,635,612,633,727,773,683,453,390,254,185,189,177,155,94,64,94,61,36,44,153,203,133,161,154,135,48,22,22,16,48,205,168,208,154,107,149,132,125,155,144,100,103,157,180,90,66,47,36,26,26,18,12,10,4,3,1,1,1,1,1,1,1]
vp_top, vp_bottom = 161.83, 155.05

# levels
full_lines = [160.40, 158.93, 158.63]
full_colors = ["#ff3d3d", "#ff9d00", "#4caf50"]
last_price = 161.737
fib_levels = [162.305, 160.747, 159.521, 158.559, 157.883, 157.207, 156.371, 155.019]
fib_labels = ["1.272 (162.305)", "1 (160.747)", "0.786 (159.521)", "0.618 (158.559)", "0.5 (157.883)", "0.382 (157.207)", "0.236 (156.371)", "0 (155.019)"]
fib_line_cols = ["#1650b0", "#ff9800", "#ff3b30", "#2e5e2e", "#2e5e2e", "#1650b0", "#123a8a", "#ff9800"]
fib_text_cols = ["#1c3f8c", "#c77f00", "#8f2a2a", "#264f26", "#264f26", "#1c438f", "#142f6e", "#c77f00"]
zone_levels = [160.533, 157.694, 157.025, 156.071, 154.856]
zone_cols = ["#f23650", "#6f6f6f", "#666666", "#5c5c5c", "#3f9142"]
zone_text_cols = ["#a8324a", "#4e4e4e", "#4e4e4e", "#4e4e4e", "#2e7d32"]
pivot_levels = [162.602, 160.93, 157.979, 156.307]
pivot_labels = ["R2 (162.602)", "R1 (160.93)", "P (157.979)", "S1 (156.307)"]
target_levels = [161.83, 161.52, 161.31, 161.10, 160.89, 160.59]
target_cols = ["#ff3b3b", "#f23650", "#ff3b3b", "#4caf50", "#4caf50", "#4caf50"]
path_x = [357,358.2,359.6,360.9,362.6,363.4,364.5,365.4,365.9,366.5,367.3,368.7,370.1,371.7,373.9,376.1,378.1,379.7,381.1,381.6,382.5,383]
path_y = [160.94,161.18,161.45,161.62,161.71,161.72,161.69,161.60,161.42,161.15,160.91,160.79,160.79,160.89,161.09,161.36,161.62,161.90,162.19,162.27,162.22,162.15]
price_ticks = [155.0,155.5,156.0,156.5,157.0,157.5,158.0,158.5,159.0,159.5,160.0,160.5,161.0,161.5,162.0,162.5]
time_pos = [3,21,33,45,57,68,81,93,105,117,128,141,153,165,177,188,201,213,225,237,248,261,279,291,303,315,327,338,351,363,375,387,398,411,423]
time_lab = ["27","Apr","3","7","9","12","15","17","21","23","26","29","May","5","7","10","13","15","19","21","24","27","Jun","3","5","9","11","14","17","19","23","25","28","Jul","3"]
table_head = ["Symbol", "Pattern", "4H", "D1", "W1", "M1", "Bias", "Trade"]
table_row = ["USDJPY", "-", "Bullish", "Bullish", "Bullish", "Bullish", "Long", "Flat"]

lens = [len(body_top), len(body_bot), len(highs), len(lows), len(candle_dir), len(volume_k)]
assert len(set(lens)) == 1, str(lens)

sns.set_theme(style="dark", rc={"axes.facecolor": "none", "figure.facecolor": "#1e1e1e", "patch.edgecolor": "none"})
plt.rcParams["font.family"] = ["Inter", "DejaVu Sans"]

TXT = "#b2b5be"
fig = plt.figure(figsize=(W / 100, H / 100), dpi=100)

# pixel layer for the frame, table and footer
bg = fig.add_axes([0, 0, 1, 1], zorder=0)
bg.set_xlim(0, W)
bg.set_ylim(H, 0)
bg.axis("off")
bg.add_patch(Rectangle((11, 27), 2779, 1327, fc="black", ec="none"))
for yy in [27, 106, 1021, 1180, 1214]:
    bg.plot([11, 2790], [yy, yy], color="#2a2a36", lw=1.3)
bg.text(9, 15, "Tickmill created with TradingView.com, Jun 22, 2026 10:07 UTC+2", color="#d8d8d8", fontsize=8.9, fontweight="medium", va="center")

cols_x = [(1142, 1208), (1209, 1268), (1269, 1323), (1324, 1378), (1379, 1433), (1434, 1488), (1489, 1533), (1534, 1583)]
row_cols = ["#363a45", "#1a1c20", "#005000", "#005000", "#005000", "#005000", "#00e676", "#1a1c20"]
for c, (x0, x1) in enumerate(cols_x):
    bg.add_patch(Rectangle((x0, 37), x1 - x0, 26, fc="#363a45", ec="none"))
    bg.add_patch(Rectangle((x0, 63.7), x1 - x0, 26, fc=row_cols[c], ec="none"))
    bg.text((x0 + x1) / 2, 50, table_head[c], color="#d1d4dc", fontsize=9.8, ha="center", va="center")
    bg.text((x0 + x1) / 2, 76.7, table_row[c], color="#2a6b4a" if table_row[c] == "Long" else "#d1d4dc", fontsize=9.8, ha="center", va="center")

bg.add_patch(FancyBboxPatch((2661, 32), 57, 24, boxstyle="round,pad=0,rounding_size=5", fc="black", ec="#434651", lw=0.9))
bg.text(2667, 44, "JPY", color=TXT, fontsize=8.6, va="center")
bg.text(2664, 66, "0.000", color=TXT, fontsize=9, va="center")
bg.text(2664, 98, "\u22120.500", color=TXT, fontsize=9, va="center")
for ty, lab in [(1060, "60 K"), (1099.5, "40 K"), (1139, "20 K")]:
    bg.text(2664, ty, lab, color=TXT, fontsize=8.8, va="center")
for ty, lab in [(1051, "80.000"), (1084, "40.000"), (1117.5, "0.000"), (1151, "\u221240.000")]:
    bg.text(2731, ty, lab, color=TXT, fontsize=8.8, va="center")
for ty, lab in [(1245, "80.00"), (1281, "40.00"), (1317, "0.00")]:
    bg.text(61, ty, lab, color=TXT, fontsize=8.8, va="center", ha="right")
for ty, lab in [(1246.7, "80.00"), (1286.7, "40.00")]:
    bg.text(2664, ty, lab, color=TXT, fontsize=8.8, va="center")
for cx, lab in [(40, "Z"), (2689.5, "A"), (2757, "B")]:
    bg.add_patch(Circle((cx, 1341), 9, fc="#26272b", ec="none"))
    bg.text(cx, 1341, lab, color="#8b8e96", fontsize=6.8, ha="center", va="center")

# footer logo and name
bg.add_patch(Polygon([(11, 1378), (26, 1378), (26, 1392), (19, 1392), (19, 1384), (11, 1384)], fc="#e8e8e8", ec="none"))
bg.add_patch(Circle((31, 1381), 3, fc="#e8e8e8", ec="none"))
bg.add_patch(Polygon([(36, 1378), (43, 1378), (36, 1392), (29, 1392)], fc="#e8e8e8", ec="none"))
bg.text(49, 1385, "TradingView", color="#e8e8e8", fontsize=14.1, fontweight="semibold", va="center")


def pane(y0, y1, x0=11, x1=2655):
    a = fig.add_axes([x0 / W, 1 - y1 / H, (x1 - x0) / W, (y1 - y0) / H], zorder=2)
    a.set_xlim((x0 - 69.26) / 6.041, (x1 - 69.26) / 6.041)
    a.grid(False)
    for s in a.spines.values():
        s.set_visible(False)
    return a


def runs(x, y, flags):
    # split a polyline in same-coloured runs for one lineplot call
    rows = []
    run = 0
    for k in range(len(x)):
        rows.append((x[k], y[k], flags[k], run))
        if k + 1 < len(x) and flags[k + 1] != flags[k]:
            rows.append((x[k + 1], y[k + 1], flags[k], run))
            run += 1
    return pd.DataFrame(rows, columns=["x", "y", "side", "run"])


def line(a, x, y, color, lw, z=3, alpha=1.0):
    sns.lineplot(x=x, y=y, ax=a, color=color, lw=lw, alpha=alpha, zorder=z, sort=False, estimator=None, legend=False, errorbar=None)


# ---- main pane
ax = pane(105.7, 1021.3)
ax.set_ylim(154.35, 162.636)

vp_step = (vp_top - vp_bottom) / len(vp_green)
vp_y = vp_top - vp_step * (np.arange(len(vp_green)) + 0.5)
ax.barh(vp_y, np.array(vp_red) / 6.041, left=0.12, height=vp_step * 0.8, color="#4a1614", linewidth=0, zorder=1)
ax.barh(vp_y, np.array(vp_green) / 6.041, left=0.12, height=vp_step * 0.8, color="#1a3a1f", linewidth=0, zorder=1.1)

for lev, col in zip(full_lines, full_colors):
    ax.plot([0.1, 430], [lev, lev], color=col, lw=1.3, ls=(0, (1.2, 3.4)), zorder=4)
ax.plot([0.1, 430], [last_price, last_price], color="#0f5c0f", lw=0.8, ls=(0, (1, 2)), zorder=2)

for lev, lab, lc, tc in zip(fib_levels, fib_labels, fib_line_cols, fib_text_cols):
    ax.plot([134, 290], [lev, lev], color=lc, lw=0.95, zorder=2.2)
    ax.text(132.7, lev, lab, color=tc, fontsize=9.1, ha="right", va="center", zorder=2.2)
for lev, lc, tc in zip(zone_levels, zone_cols, zone_text_cols):
    ax.plot([170.9, 290], [lev, lev], color=lc, lw=1.5, zorder=2.4)
    ax.text(292, lev, f"({lev:.3f})", color=tc, fontsize=9.1, va="center")
for lev, lab in zip(pivot_levels, pivot_labels):
    ax.plot([278.1, 410], [lev, lev], color="#a6a8ae", lw=0.95, zorder=2.2)
    ax.text(275.5, lev, lab, color="#7d8089", fontsize=9.1, ha="right", va="center")

for bx, by in [(u3_x, u3_y), (u2_x, u2_y), (u1_x, u1_y)]:
    line(ax, bx, by, "#7a262c", 1.0)
for bx, by in [(l1_x, l1_y), (l2_x, l2_y), (l3_x, l3_y)]:
    line(ax, bx, by, "#2f662f", 1.0)

close_ref = np.array([(t if d == "G" else b) for t, b, d in zip(body_top, body_bot, candle_dir)])
slow_up = np.interp(slow_x, np.arange(len(close_ref)), close_ref) >= np.array(slow_y)
slow_df = runs(slow_x, slow_y, ["G" if f else "R" for f in slow_up])
sns.lineplot(data=slow_df, x="x", y="y", hue="side", units="run", estimator=None, sort=False, palette={"G": "#0e5a0e", "R": "#b40000"}, lw=2.0, legend=False, ax=ax, zorder=3.2)
fast_up = np.append(np.diff(fast_y) >= 0, True)
fast_df = runs(fast_x, fast_y, ["G" if f else "R" for f in fast_up])
sns.lineplot(data=fast_df, x="x", y="y", hue="side", units="run", estimator=None, sort=False, palette={"G": "#0f650f", "R": "#a80606"}, lw=3.2, legend=False, ax=ax, zorder=3.4)

idx = np.arange(len(body_top))
is_up = np.array([d == "G" for d in candle_dir])
ax.vlines(idx, lows, highs, color="white", lw=0.85, zorder=5)
body_col = np.where(is_up, "#008000", "#ff0000")
ax.bar(idx, np.array(body_top) - np.array(body_bot), bottom=body_bot, width=0.86, color=body_col, edgecolor=body_col, linewidth=0.4, zorder=6)

for lev, col in zip(target_levels, target_cols):
    ax.plot([368, 374], [lev, lev], color=col, lw=1.6, zorder=7)
ax.plot(path_x, path_y, color="#ff9800", lw=1.6, ls=(0, (1.5, 2.6)), zorder=7)

ax.set_xlim((11 - 69.26) / 6.041, (2655 - 69.26) / 6.041)
ax.set_ylim(154.35, 162.636)
ax.yaxis.tick_right()
ax.set_yticks(price_ticks)
ax.set_yticklabels([f"{p:.3f}" for p in price_ticks], color=TXT, fontsize=9)
ax.tick_params(axis="y", length=0, pad=6.5)
ax.set_xticks([])
ax.set_xlabel("")
ax.set_ylabel("")

# last price flag
bg_top = fig.add_axes([0, 0, 1, 1], zorder=5)
bg_top.set_xlim(0, W)
bg_top.set_ylim(H, 0)
bg_top.axis("off")
bg_top.add_patch(Rectangle((2656.5, 197.5), 60.5, 30, fc="#088a08", ec="none"))
bg_top.text(2664, 205.5, f"{last_price:.3f}", color="white", fontsize=9, va="center")
bg_top.text(2664, 219.5, "54:35", color="#d5e8d5", fontsize=9, va="center")

# ---- volume pane
vol_ax = pane(1021.3, 1180)
vol_df = pd.DataFrame({"bar": idx, "vol": volume_k, "side": list(candle_dir)})
sns.barplot(data=vol_df, x="bar", y="vol", hue="side", native_scale=True, dodge=False, width=0.78, palette={"G": "#275c27", "R": "#752626"}, saturation=1, linewidth=0, legend=False, ax=vol_ax, zorder=1)
vol_ax.set_xlim((11 - 69.26) / 6.041, (2655 - 69.26) / 6.041)
vol_ax.set_ylim(-0.35, 79.1)
vol_ax.set_xticks([])
vol_ax.set_yticks([])
vol_ax.set_xlabel("")
vol_ax.set_ylabel("")

osc_ax = vol_ax.twinx()
osc_ax.set_ylim(-74.6, 114.6)
osc_ax.grid(False)
for s in osc_ax.spines.values():
    s.set_visible(False)
osc_ax.plot([0, 370], [0, 0], color="#b060c0", lw=1.1, zorder=2)
osc_ax.plot([219.1, 334], [96.8, 76.2], color="#0d2f8a", lw=2.0, zorder=2)
osc_ax.plot([159.2, 333], [-54.8, 0.7], color="#1a4aa8", lw=2.0, alpha=0.7, zorder=2)
osc_df = runs(osc_x, osc_y, ["G" if v >= 0 else "R" for v in osc_y])
sns.lineplot(data=osc_df, x="x", y="y", hue="side", units="run", estimator=None, sort=False, palette={"G": "#4caf50", "R": "#ff5252"}, lw=2.5, legend=False, ax=osc_ax, zorder=3)
osc_ax.set_yticks([])
osc_ax.set_xlabel("")
osc_ax.set_ylabel("")
osc_ax.set_xlim(vol_ax.get_xlim())
osc_ax.set_ylim(-74.6, 114.6)
osc_ax.set_xticks([])

# ---- stochastic pane
st_ax = pane(1214.3, 1328)
st_ax.set_ylim((1317.5 - 1328) / 0.91, (1317.5 - 1214.3) / 0.91)
st_ax.plot([0, 428], [80, 80], color="#ff3b30", lw=1.1)
st_ax.plot([0, 428], [20, 20], color="#4caf50", lw=1.1)
st_ax.plot([0, 427], [50, 50], color="#555860", lw=0.9, ls=(0, (3, 3)))
for sx, sy, col in [(stk_slow_r_x, stk_slow_r_y, "#e8392f"), (stk_slow_g_x, stk_slow_g_y, "#3c9a40"), (stk_fast_g_x, stk_fast_g_y, "#3c9a40"), (stk_fast_r_x, stk_fast_r_y, "#e8392f")]:
    line(st_ax, sx, sy, col, 0.9)
st_ax.set_xlim((11 - 69.26) / 6.041, (2655 - 69.26) / 6.041)
st_ax.set_ylim((1317.5 - 1328) / 0.91, (1317.5 - 1214.3) / 0.91)
st_ax.set_yticks([])
st_ax.set_ylabel("")
st_ax.set_xlabel("")
st_ax.set_xticks(time_pos)
st_ax.set_xticklabels(time_lab, color=TXT, fontsize=9)
for t in st_ax.get_xticklabels():
    if t.get_text() in ("Apr", "May", "Jun", "Jul"):
        t.set_fontweight("bold")
        t.set_color("#d1d4dc")
st_ax.tick_params(axis="x", length=0, pad=4)

fig.savefig("out.png", dpi=100, facecolor="#1e1e1e")
